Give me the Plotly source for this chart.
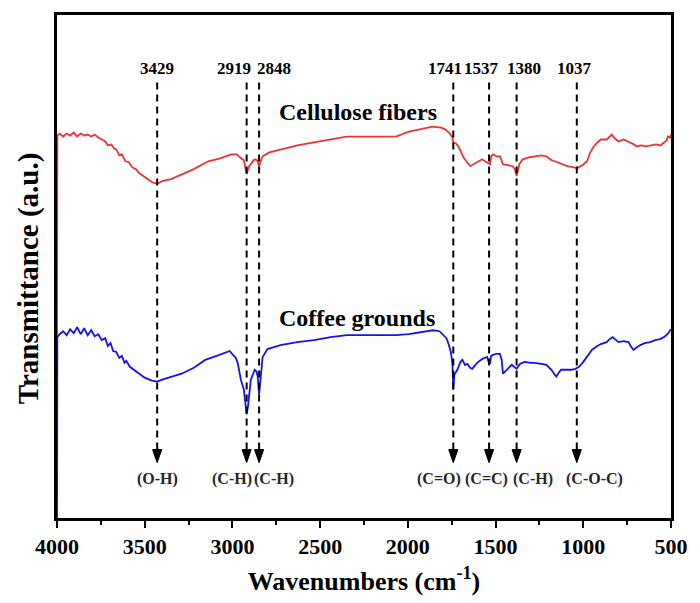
import plotly.graph_objects as go

# ---- data ----
cell_wn = [4000, 3998, 3985, 3965, 3945, 3925, 3905, 3885, 3865, 3845, 3825, 3805, 3785,
           3765, 3745, 3725, 3710, 3690, 3675, 3662, 3645, 3630, 3610, 3590, 3572, 3550,
           3532, 3500, 3460, 3429, 3400, 3350, 3290, 3220, 3138, 3070, 3008, 2975, 2957,
           2935, 2919, 2905, 2895, 2880, 2867, 2856, 2848, 2838, 2828, 2790, 2726, 2630,
           2535, 2440, 2349, 2250, 2163, 2067, 1994, 1920, 1858, 1810, 1785, 1760, 1746,
           1741, 1725, 1712, 1680, 1644, 1610, 1577, 1560, 1548, 1532, 1525, 1515, 1495,
           1475, 1458, 1430, 1402, 1390, 1380, 1365, 1345, 1310, 1278, 1240, 1210, 1180,
           1148, 1120, 1092, 1060, 1037, 1005, 979, 960, 940, 920, 900, 866, 850, 838,
           820, 799, 770, 731, 710, 697, 670, 641, 610, 585, 560, 535, 525, 518, 505, 500]
cell_t = [143, 387, 389, 386, 389, 387, 390, 386, 389, 387, 388, 386, 388,
          385, 383, 381, 377, 378, 374, 373, 367, 368, 361, 360, 355, 353,
          349, 345, 340, 338, 341, 343, 348, 353, 361, 364, 368, 368, 365,
          362, 348, 356, 358, 362, 363, 361, 356, 362, 366, 370, 373, 377,
          380, 383, 386, 386, 386, 386, 391, 394, 396, 395, 393, 389, 385,
          380, 379, 376, 364, 356, 360, 363, 361, 360, 358, 366, 368, 366,
          366, 358, 357, 356, 353, 346, 358, 363, 365, 366, 367, 366, 362,
          360, 358, 356, 355, 354, 357, 361, 370, 376, 380, 383, 383, 386, 388,
          384, 381, 383, 380, 378, 376, 377, 376, 377, 378, 377, 380, 382, 386, 385, 388]

coffee_wn = [4000, 3998, 3985, 3965, 3945, 3925, 3905, 3885, 3865, 3845, 3825, 3805, 3785,
             3765, 3745, 3725, 3710, 3695, 3680, 3662, 3645, 3630, 3615, 3605, 3585,
             3560, 3532, 3500, 3460, 3429, 3400, 3350, 3290, 3220, 3155, 3090, 3036,
             3015, 2997, 2980, 2969, 2952, 2935, 2925, 2919, 2912, 2895, 2873, 2862,
             2856, 2850, 2848, 2840, 2828, 2800, 2726, 2630, 2535, 2440, 2349, 2250,
             2180, 2067, 1994, 1920, 1858, 1820, 1802, 1780, 1768, 1755, 1746, 1741,
             1735, 1718, 1700, 1689, 1675, 1661, 1645, 1633, 1615, 1599, 1575, 1548,
             1540, 1532, 1525, 1515, 1495, 1475, 1465, 1458, 1436, 1420, 1408, 1395,
             1380, 1360, 1334, 1300, 1278, 1240, 1210, 1182, 1165, 1154, 1140, 1126,
             1100, 1069, 1045, 1024, 1000, 979, 951, 920, 900, 866, 850, 833, 815, 799,
             770, 742, 730, 714, 700, 675, 650, 618, 590, 563, 540, 529, 515, 505, 500]
coffee_t = [-30, 183, 186, 189, 185, 191, 187, 193, 186, 192, 185, 190, 184,
            186, 180, 182, 174, 177, 169, 168, 162, 164, 157, 159, 153,
            150, 146, 142, 139, 138, 140, 143, 146, 152, 160, 164, 168,
            169, 165, 162, 156, 140, 130, 112, 105, 112, 140, 150, 148,
            143, 132, 125, 140, 163, 171, 175, 178, 180, 183, 185, 185,
            185, 185, 186, 188, 190, 189, 186, 182, 176, 168, 156, 130,
            145, 150, 158, 160, 155, 156, 152, 151, 155, 158, 161, 163,
            158, 156, 164, 165, 166, 166, 160, 146, 150, 153, 155, 153,
            151, 156, 158, 157, 157, 156, 155, 150, 146, 143, 147, 150,
            150, 150, 151, 153, 158, 163, 170, 174, 176, 178, 181, 183, 180, 178,
            179, 178, 174, 170, 172, 175, 177, 178, 180, 181, 183, 185, 187, 190, 191]

peak_wn = [3429, 2919, 2848, 1741, 1537, 1380, 1037]
peak_labels = ["3429", "2919", "2848", "1741", "1537", "1380", "1037"]
bond_labels = ["(O-H)", "(C-H)", "(C-H)", "(C=O)", "(C=C)", "(C-H)", "(C-O-C)"]
series_names = ["Cellulose fibers", "Coffee grounds"]
tick_vals = [4000, 3500, 3000, 2500, 2000, 1500, 1000, 500]
x_title = "Wavenumbers (cm<sup>-1</sup>)"
y_title = "Transmittance (a.u.)"

# ---- style ----
FONT = "Liberation Serif"
top_shift = [0, -13, 15, -8, -8, 7, -2]      # px offsets of the top labels
bot_shift = [0, -15, 15, -14, -3, 16, 18]    # px offsets of the bond labels
HEAD_HALF = 26                                # arrow head half-width (in cm-1)
LINE_TOP, HEAD_BASE, HEAD_TIP = 0.866, 0.136, 0.110   # paper fractions

fig = go.Figure()
fig.add_trace(go.Scatter(x=cell_wn, y=cell_t, mode="lines", name=series_names[0],
                         line=dict(color="#ec3434", width=1.8), showlegend=False))
fig.add_trace(go.Scatter(x=coffee_wn, y=coffee_t, mode="lines", name=series_names[1],
                         line=dict(color="#1414e6", width=1.8), showlegend=False))

for wn, lab, blab, ts, bs in zip(peak_wn, peak_labels, bond_labels, top_shift, bot_shift):
    fig.add_shape(type="line", xref="x", yref="paper", x0=wn, x1=wn,
                  y0=HEAD_BASE, y1=LINE_TOP,
                  line=dict(color="black", width=2, dash="7px,5px"), layer="above")
    fig.add_shape(type="path", xref="x", yref="paper",
                  path="M %g,%g L %g,%g L %g,%g Z" % (wn - HEAD_HALF, HEAD_BASE,
                                                     wn + HEAD_HALF, HEAD_BASE,
                                                     wn, HEAD_TIP),
                  fillcolor="black", line=dict(color="black", width=1), layer="above")
    fig.add_annotation(x=wn, y=0.893, xref="x", yref="paper", yanchor="middle",
                       text="<b>%s</b>" % lab, showarrow=False, xshift=ts,
                       font=dict(family=FONT, size=17, color="black"))
    fig.add_annotation(x=wn, y=0.078, xref="x", yref="paper", yanchor="middle",
                       text="<b>%s</b>" % blab, showarrow=False, xshift=bs,
                       font=dict(family=FONT, size=16, color="#262626"))

fig.add_annotation(x=2848, y=0.807, xref="x", yref="paper", xanchor="left", yanchor="middle",
                   text="<b>%s</b>" % series_names[0], showarrow=False, xshift=18,
                   font=dict(family=FONT, size=24, color="black"))
fig.add_annotation(x=2848, y=0.398, xref="x", yref="paper", xanchor="left", yanchor="middle",
                   text="<b>%s</b>" % series_names[1], showarrow=False, xshift=18,
                   font=dict(family=FONT, size=24, color="black"))

# y-axis title as rotated annotation (centred like the reference)
fig.add_annotation(x=-0.047, y=0.477, xref="paper", yref="paper", xanchor="center",
                   yanchor="middle", textangle=-90, text="<b>%s</b>" % y_title,
                   showarrow=False, font=dict(family=FONT, size=29, color="black"))

fig.update_layout(
    width=700, height=603,
    margin=dict(l=57, r=21, t=14, b=80),
    paper_bgcolor="white", plot_bgcolor="white",
    font=dict(family=FONT, color="black"),
    xaxis=dict(range=[4000, 500], tickmode="array",
               tickvals=tick_vals,
               ticktext=["<b>%d</b>" % v for v in tick_vals],
               ticks="outside", ticklen=7, tickwidth=2, tickcolor="black",
               minor=dict(ticks="outside", ticklen=4, tickwidth=2, dtick=250, tickcolor="black"),
               showline=True, linecolor="black", linewidth=2.5, mirror=True,
               showgrid=False, zeroline=False,
               tickfont=dict(family=FONT, size=22, color="black"),
               title=dict(text="<b>%s</b>" % x_title,
                          font=dict(family=FONT, size=26, color="black"), standoff=14)),
    yaxis=dict(range=[0, 509], showticklabels=False, ticks="",
               showline=True, linecolor="black", linewidth=2.5, mirror=True,
               showgrid=False, zeroline=False),
)

fig.write_html("out.html")
